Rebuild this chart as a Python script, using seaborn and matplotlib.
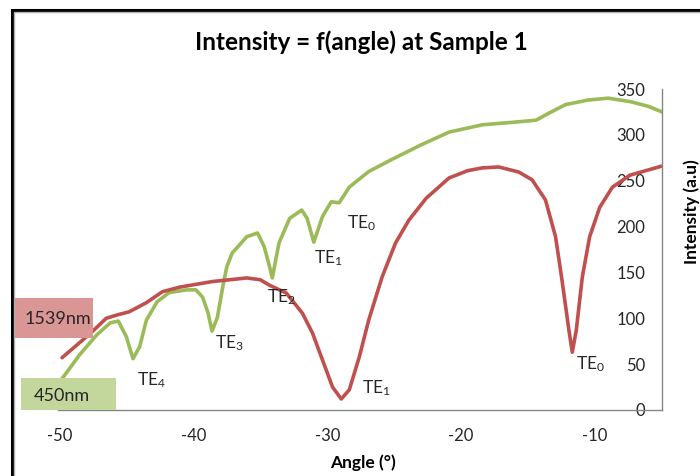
import matplotlib
matplotlib.use("Agg")
import matplotlib.pyplot as plt
import seaborn as sns
import pandas as pd
from matplotlib.patches import Rectangle

# ---- data ----
red_angle = [-49.8, -48.6, -47.5, -46.5, -45.6, -44.8, -43.5, -42.3, -41.0, -39.8, -38.6,
             -37.3, -36.0, -35.0, -34.3, -33.05, -31.85, -31.1, -30.35, -29.6, -28.95,
             -28.35, -27.6, -26.9, -25.9, -24.9, -23.9, -22.6, -20.9, -19.5, -18.4, -17.2,
             -15.7, -14.7, -13.7, -12.95, -12.5, -11.95, -11.7, -11.4, -10.95, -10.4, -9.65,
             -8.7, -7.4, -5.0]
red_int = [57, 72, 86, 100, 104, 107, 117, 129, 134, 137, 140,
           142, 144, 142, 136, 127.5, 105.5, 84, 54.5, 25, 12,
           22, 58, 98, 145, 182, 207, 231, 253, 261, 264, 265,
           259.5, 251, 229, 189, 145, 87, 63, 87, 145, 189, 221,
           243, 256, 266]

green_angle = [-50.0, -49.7, -48.5, -47.2, -46.2, -45.6, -45.0, -44.5, -44.0, -43.5, -42.7,
               -41.8, -40.5, -39.8, -39.3, -38.9, -38.6, -38.2, -37.8, -37.5, -37.1, -36.0,
               -35.2, -34.7, -34.3, -34.1, -33.6, -32.8, -31.9, -31.5, -31.0, -30.35,
               -29.7, -29.1, -28.35, -26.9, -25.2, -23.0, -20.9, -18.4, -15.9, -14.4,
               -13.4, -12.2, -10.5, -9.0, -7.3, -6.0, -5.0]
green_int = [30, 36, 60, 82, 95, 97, 80, 56, 69, 98, 118,
             128, 131, 131, 123, 106, 86, 101, 134, 156, 171, 189,
             193, 178, 156, 144, 182, 209, 218, 209, 183, 211,
             227, 226, 243, 260, 273, 289, 303, 311, 314, 316,
             324, 333, 338, 340, 336, 331, 325]

x_ticks = [-50, -40, -30, -20, -10]
y_ticks = [0, 50, 100, 150, 200, 250, 300, 350]

# mode labels: (text, subscript, angle, intensity)
mode_labels = [("TE", "4", -44.2, 33), ("TE", "3", -38.4, 73), ("TE", "2", -34.5, 123),
               ("TE", "1", -31.0, 166), ("TE", "0", -28.5, 204),
               ("TE", "1", -27.4, 24), ("TE", "0", -11.4, 50)]

RED = "#C0504D"
GREEN = "#9BBB59"

sns.set_style("white")
plt.rcParams["font.family"] = ["Lato", "DejaVu Sans"]
plt.rcParams["mathtext.fontset"] = "custom"
plt.rcParams["mathtext.rm"] = "Lato"
plt.rcParams["mathtext.it"] = "Lato"
plt.rcParams["mathtext.bf"] = "Lato:bold"
plt.rcParams["axes.unicode_minus"] = False

W, H = 700, 476
fig = plt.figure(figsize=(W / 100, H / 100), dpi=100)
ax = fig.add_axes([58 / W, 1 - 410 / H, (662 - 58) / W, (410 - 89) / H])

df_red = pd.DataFrame({"angle": red_angle, "intensity": red_int})
df_green = pd.DataFrame({"angle": green_angle, "intensity": green_int})
sns.lineplot(data=df_green, x="angle", y="intensity", color=GREEN, lw=2.6, ax=ax, sort=False)
sns.lineplot(data=df_red, x="angle", y="intensity", color=RED, lw=2.6, ax=ax, sort=False)
for ln in ax.lines:
    ln.set_solid_joinstyle("round")
    ln.set_solid_capstyle("round")

ax.set_xlim(-50.1, -5)
ax.set_ylim(0, 350)
ax.set_xticks(x_ticks)
ax.set_yticks(y_ticks)

for s in ["top", "right"]:
    ax.spines[s].set_visible(False)
ax.spines["left"].set_position(("axes", 1.0))
for s in ["left", "bottom"]:
    ax.spines[s].set_color("#868686")
    ax.spines[s].set_linewidth(1.0)

ax.tick_params(axis="x", direction="out", length=5, width=1, color="#868686",
               labelsize=12, labelcolor="#262626", pad=8)
ax.tick_params(axis="y", direction="out", length=5, width=1, color="#868686",
               labelsize=12, labelcolor="#262626", pad=7)

ax.set_xlabel("")
ax.set_ylabel("")

for base, sub, xa, ya in mode_labels:
    ax.text(xa, ya, base + "$_{" + sub + "}$", fontsize=12.5, color="#262626",
            ha="left", va="center")

# titles
fig.text(361 / W, 1 - 42 / H, "Intensity = f(angle) at Sample 1", fontsize=17.5,
         fontweight="bold", ha="center", va="center", color="black")
fig.text(363 / W, 1 - 463 / H, "Angle (°)", fontsize=12.5, fontweight="bold",
         ha="center", va="center", color="black")
fig.text(692 / W, 1 - 212 / H, "Intensity (a.u)", fontsize=12.5, fontweight="bold",
         ha="center", va="center", rotation=90, color="black")

# legend-like boxes
def px_rect(x0, y0, x1, y1, color):
    r = Rectangle((x0 / W, 1 - y1 / H), (x1 - x0) / W, (y1 - y0) / H,
                  transform=fig.transFigure, facecolor=color, edgecolor="none", zorder=5)
    fig.patches.append(r)

px_rect(14, 298, 93, 338, "#D99694")
px_rect(21, 378, 116, 410, "#C3D69B")
fig.text(58 / W, 1 - 319 / H, "1539nm", fontsize=13, ha="center", va="center",
         color="#262626", zorder=6)
fig.text(62 / W, 1 - 396 / H, "450nm", fontsize=13, ha="center", va="center",
         color="#262626", zorder=6)

# outer frame (cropped chart border)
fig.patches.append(Rectangle((12 / W, -0.2), 1.2, 1 - 9.5 / H + 0.2, transform=fig.transFigure,
                             fill=False, edgecolor="black", lw=2.2, zorder=10))
fig.patches.append(Rectangle((14.5 / W, -0.2), 1.2, 1 - 11.5 / H + 0.2, transform=fig.transFigure,
                             fill=False, edgecolor="#B0B0B0", lw=1.0, zorder=10))

fig.savefig("out.png", dpi=100)
